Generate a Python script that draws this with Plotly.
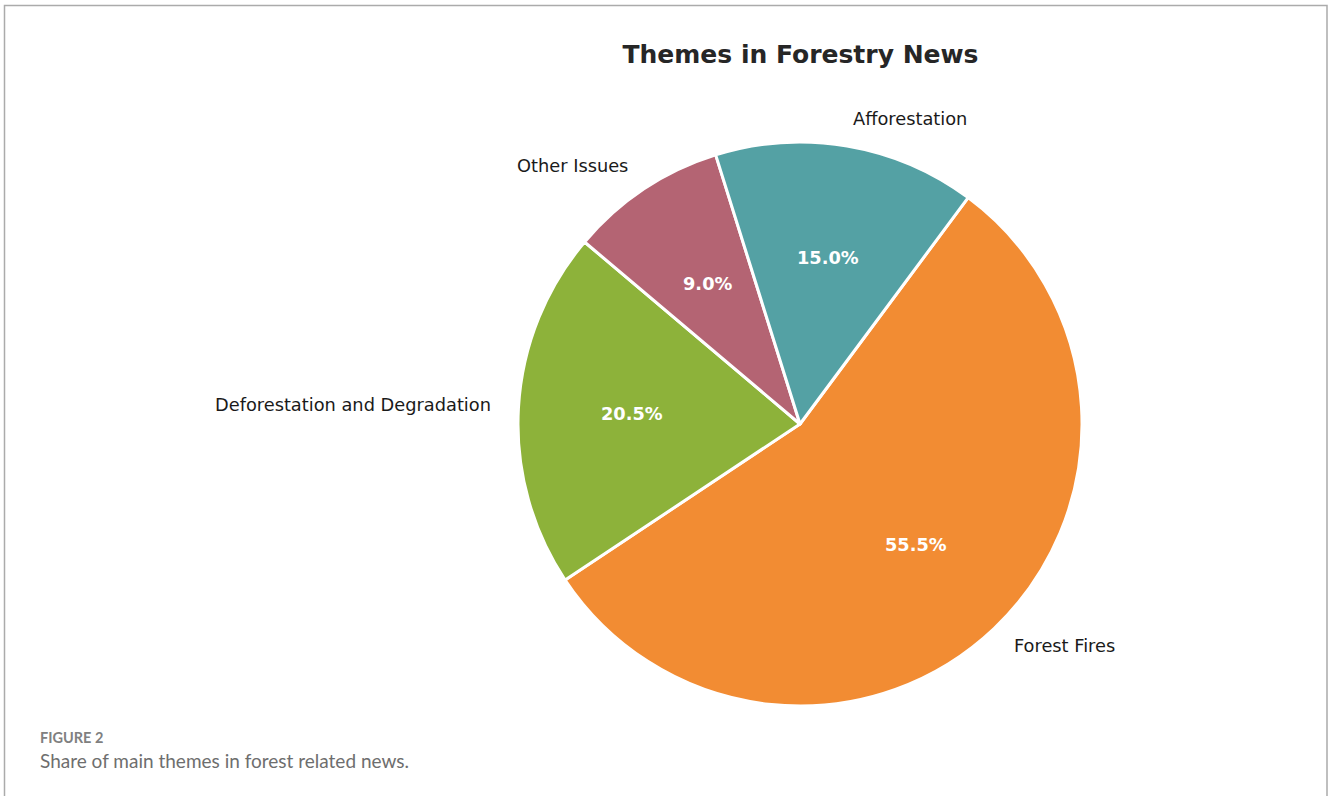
import math
import plotly.graph_objects as go

# Data
labels = ["Forest Fires", "Deforestation and Degradation", "Other Issues", "Afforestation"]
shares = [55.5, 20.5, 9.0, 15.0]
colors = ["#F28C33", "#8DB23A", "#B46473", "#54A1A4"]

W, H = 1328, 796
CX, CY, R = 800, 424, 280          # pie centre / radius in px
DOM = 282                           # domain half-size (plotly trims edge a little)
START = 53.4                        # math-angle where first slice starts (clockwise)

fig = go.Figure()
fig.add_trace(go.Pie(
    labels=labels, values=shares, sort=False, direction="clockwise",
    rotation=90 - START, textinfo="none", hoverinfo="label+percent",
    marker=dict(colors=colors, line=dict(color="white", width=3)),
    domain=dict(x=[(CX - DOM) / W, (CX + DOM) / W], y=[1 - (CY + DOM) / H, 1 - (CY - DOM) / H]),
    showlegend=False,
))

annotations = []
total = sum(shares)
ang = START
for lab, v in zip(labels, shares):
    span = 360 * v / total
    mid = math.radians(ang - span / 2)
    ang -= span
    c, s = math.cos(mid), math.sin(mid)
    # outer label at 1.1 r
    lx, ly = CX + 1.1 * R * c, CY - 1.1 * R * s - 1.5
    annotations.append(dict(
        x=lx / W, y=1 - ly / H, xref="paper", yref="paper", text=lab, showarrow=False,
        xanchor="left" if c > 0 else "right", yanchor="middle",
        font=dict(family="DejaVu Sans", size=17.8, color="#1a1a1a"),
    ))
    # percentage at 0.6 r
    px, py = CX + 0.6 * R * c, CY - 0.6 * R * s - 1
    annotations.append(dict(
        x=px / W, y=1 - py / H, xref="paper", yref="paper", text=f"<b>{v / total * 100:.1f}%</b>",
        showarrow=False, xanchor="center", yanchor="middle",
        font=dict(family="DejaVu Sans", size=17.8, color="white"),
    ))

annotations.append(dict(
    x=38 / W, y=1 - 737 / H, xref="paper", yref="paper", text="<b>FIGURE 2</b>", showarrow=False,
    xanchor="left", yanchor="middle", font=dict(family="Lato", size=14.5, color="#808080"),
))
annotations.append(dict(
    x=38 / W, y=1 - 760 / H, xref="paper", yref="paper",
    text="Share of main themes in forest related news.", showarrow=False,
    xanchor="left", yanchor="middle", font=dict(family="Lato", size=19.0, color="#6e6e6e"),
))

fig.update_layout(
    width=W, height=H, margin=dict(l=0, r=0, t=0, b=0),
    paper_bgcolor="white", plot_bgcolor="white",
    title=dict(text="<b>Themes in Forestry News</b>", x=800.5 / W, xanchor="center",
               y=1 - 54 / H, yanchor="middle",
               font=dict(family="DejaVu Sans", size=25, color="#262626")),
    annotations=annotations,
    shapes=[dict(type="rect", xref="paper", yref="paper",
                 x0=4.5 / W, x1=1327 / W, y0=-0.02, y1=1 - 5.5 / H,
                 line=dict(color="#ababab", width=1.5), fillcolor="rgba(0,0,0,0)", layer="below")],
)

fig.write_html("out.html")
